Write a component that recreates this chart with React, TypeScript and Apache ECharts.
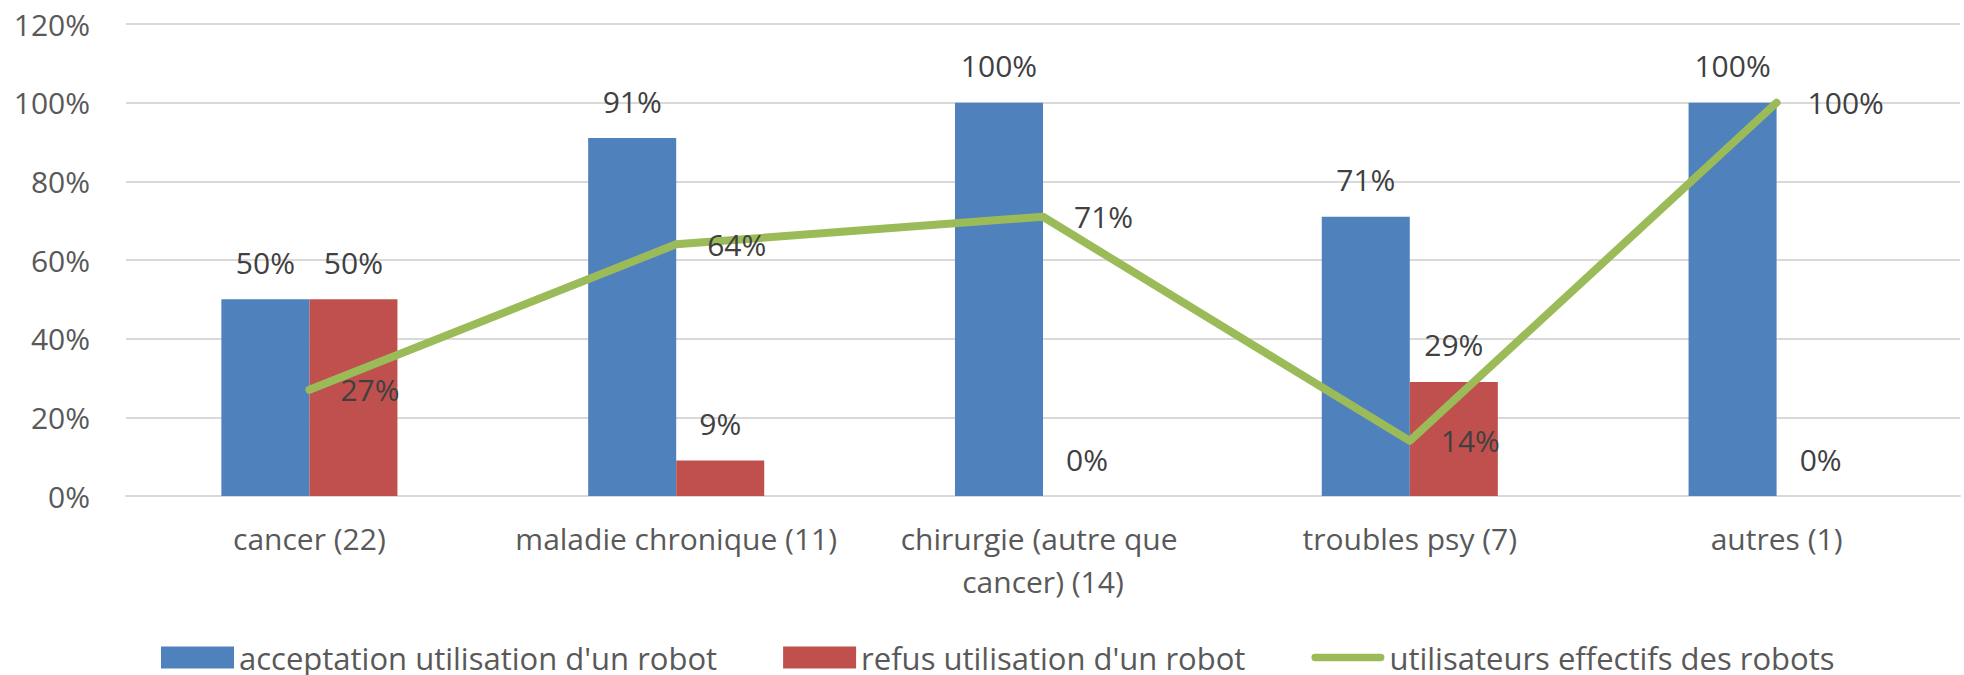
import React, { useEffect, useRef } from "react";
import * as echarts from "echarts";

const categories = [
  "cancer (22)",
  "maladie chronique (11)",
  "chirurgie (autre que cancer) (14)",
  "troubles psy (7)",
  "autres (1)",
];
const acceptation = [50, 91, 100, 71, 100];
const refus = [50, 9, 0, 29, 0];
const utilisateurs = [27, 64, 71, 14, 100];
const seriesNames = [
  "acceptation utilisation d'un robot",
  "refus utilisation d'un robot",
  "utilisateurs effectifs des robots",
];

const FONT = "'Open Sans', 'Noto Sans', sans-serif";

export default function App() {
  const ref = useRef<HTMLDivElement>(null);
  useEffect(() => {
    if (!ref.current) return;
    const chart = echarts.init(ref.current, null, { renderer: "svg" });
    const pct = (p: any) => `${p.value}%`;
    chart.setOption({
      animation: false,
      textStyle: { fontFamily: FONT },
      grid: { left: 126, right: 4, top: 24, bottom: 179, containLabel: false },
      legend: {
        left: 156,
        top: 637,
        itemWidth: 73,
        itemHeight: 22,
        itemGap: 66,
        textStyle: { fontFamily: FONT, fontSize: 31, color: "#595959" },
        data: [
          { name: seriesNames[0], icon: "rect" },
          { name: seriesNames[1], icon: "rect" },
          {
            name: seriesNames[2],
            icon: "path://M5,0H95A5,5 0 0 1 95,10H5A5,5 0 0 1 5,0Z",
            itemStyle: { color: "#9BBB59" },
          },
        ],
      },
      xAxis: {
        type: "category",
        data: categories,
        axisLine: { show: true, lineStyle: { color: "#D9D9D9", width: 2 } },
        axisTick: { show: false },
        axisLabel: {
          interval: 0,
          margin: 21,
          fontFamily: FONT,
          fontSize: 30,
          color: "#595959",
          width: 360,
          overflow: "break",
          lineHeight: 43,
        },
      },
      yAxis: {
        type: "value",
        min: 0,
        max: 120,
        interval: 20,
        axisLine: { show: false },
        axisTick: { show: false },
        splitLine: { lineStyle: { color: "#D9D9D9", width: 2 } },
        axisLabel: {
          formatter: "{value}%",
          margin: 36,
          fontFamily: FONT,
          fontSize: 30,
          color: "#595959",
        },
      },
      series: [
        {
          name: seriesNames[0],
          type: "bar",
          data: acceptation,
          barGap: "0%",
          barCategoryGap: "52%",
          itemStyle: { color: "#4F81BD" },
          label: {
            show: true,
            position: "top",
            distance: 22,
            formatter: pct,
            fontFamily: FONT,
            fontSize: 30,
            color: "#404040",
          },
        },
        {
          name: seriesNames[1],
          type: "bar",
          data: refus,
          barGap: "0%",
          barCategoryGap: "52%",
          itemStyle: { color: "#C0504D" },
          label: {
            show: true,
            position: "top",
            distance: 22,
            formatter: pct,
            fontFamily: FONT,
            fontSize: 30,
            color: "#404040",
          },
        },
        {
          name: seriesNames[2],
          type: "line",
          data: utilisateurs,
          symbol: "circle",
          symbolSize: 2,
          showSymbol: true,
          z: 5,
          lineStyle: { color: "#9BBB59", width: 8, cap: "round", join: "round" },
          itemStyle: { color: "#9BBB59" },
          label: {
            show: true,
            position: "right",
            distance: 30,
            formatter: pct,
            fontFamily: FONT,
            fontSize: 30,
            color: "#404040",
          },
          labelLayout: { hideOverlap: false },
        },
      ],
    });
    return () => chart.dispose();
  }, []);
  return (
    <div
      ref={ref}
      style={{ position: "fixed", left: 0, top: 0, width: 1964, height: 675, background: "#fff" }}
    />
  );
}
